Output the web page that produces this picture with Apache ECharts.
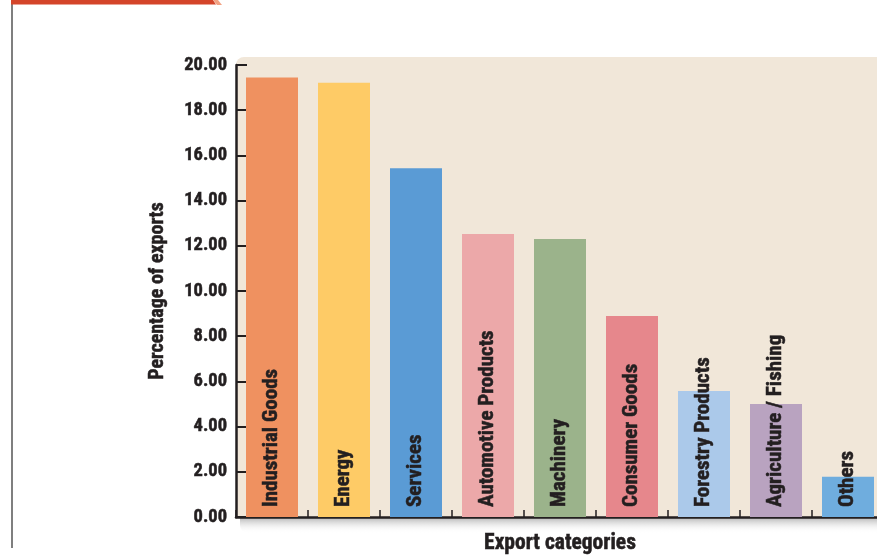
<!DOCTYPE html>
<html>
<head>
<meta charset="utf-8">
<script src="https://cdn.jsdelivr.net/npm/echarts@6/dist/echarts.min.js"></script>
<style>
  html, body { margin: 0; padding: 0; background: #ffffff; }
  #chart { width: 877px; height: 555px; }
</style>
</head>
<body>
<div id="chart"></div>
<script>
// Export share by category (percent)
const categories = [
  'Industrial Goods', 'Energy', 'Services', 'Automotive Products', 'Machinery',
  'Consumer Goods', 'Forestry Products', 'Agriculture / Fishing', 'Others'
];
const shares = [19.45, 19.22, 15.43, 12.52, 12.3, 8.89, 5.58, 5.0, 1.78];
const barColors = [
  '#EF9160', '#FECB66', '#5A9BD5', '#ECA8A9', '#9BB38B',
  '#E6878C', '#ABC9EA', '#B9A3C0', '#6FADDE'
];
const yTicks = { min: 0, max: 20, step: 2 };

const FONT = '"Roboto Condensed", "Liberation Sans Narrow", "Arial Narrow", sans-serif';
const INK = '#231F20';

// plot area
const L = 236, T = 65, R = -7, B = 38;
const W = 877, H = 555;

const chart = echarts.init(document.getElementById('chart'), null, { renderer: 'canvas' });

chart.setOption({
  animation: false,
  backgroundColor: '#ffffff',
  grid: { left: L, top: T, right: R, bottom: B, containLabel: false, outerBoundsMode: 'none' },
  xAxis: {
    type: 'category',
    data: categories,
    name: 'Export categories',
    nameLocation: 'middle',
    nameGap: 16,
    nameTextStyle: {
      fontFamily: FONT, fontWeight: 'bold', fontSize: 21.5, color: INK,
      verticalAlign: 'top', textBorderColor: INK, textBorderWidth: 0.5
    },
    axisLine: { lineStyle: { color: INK, width: 2.5 } },
    axisTick: { show: true, inside: true, interval: 0, length: 7, lineStyle: { color: INK, width: 1.5 } },
    axisLabel: { show: false },
    splitLine: { show: false }
  },
  yAxis: {
    type: 'value',
    min: yTicks.min,
    max: yTicks.max,
    interval: yTicks.step,
    name: 'Percentage of exports',
    nameLocation: 'middle',
    nameGap: 68,
    nameRotate: 90,
    nameTextStyle: {
      fontFamily: FONT, fontWeight: 'bold', fontSize: 20, color: INK,
      textBorderColor: INK, textBorderWidth: 0.5
    },
    axisLine: { show: true, lineStyle: { color: INK, width: 2.5 } },
    axisTick: { show: true, inside: true, length: 11, lineStyle: { color: INK, width: 2 } },
    axisLabel: {
      fontFamily: FONT, fontWeight: 'bold', fontSize: 18.5, color: INK, margin: 9,
      textBorderColor: INK, textBorderWidth: 0.5,
      formatter: v => v.toFixed(2)
    },
    splitLine: { show: false }
  },
  series: [{
    type: 'bar',
    data: shares.map((v, i) => ({ value: v, itemStyle: { color: barColors[i] } })),
    barWidth: 52,
    z: 3,
    label: {
      show: true,
      position: 'insideBottom',
      rotate: 90,
      align: 'left',
      verticalAlign: 'middle',
      distance: 10,
      formatter: '{b}',
      fontFamily: FONT,
      fontWeight: 'bold',
      fontSize: 21,
      color: INK,
      textBorderColor: INK,
      textBorderWidth: 0.5
    }
  }],
  graphic: [
    // beige plot panel
    {
      type: 'rect', z: -10, silent: true,
      shape: { x: L, y: 57, width: W - L, height: H - B - 57, r: [8, 0, 0, 0] },
      style: { fill: '#F1E7D9' }
    },
    // soft shadow under the baseline
    {
      type: 'rect', z: -10, silent: true,
      shape: { x: 240, y: H - B, width: W - 240, height: 16, r: [0, 0, 0, 8] },
      style: {
        fill: new echarts.graphic.LinearGradient(0, 0, 0, 1, [
          { offset: 0, color: 'rgba(150,150,150,0.75)' },
          { offset: 1, color: 'rgba(255,255,255,0)' }
        ])
      }
    },
    // page frame: thin left rule
    {
      type: 'line', silent: true,
      shape: { x1: 12, y1: 0, x2: 12, y2: 548 },
      style: { stroke: '#555555', lineWidth: 1.5 }
    },
    // red header strip
    {
      type: 'polygon', silent: true,
      shape: { points: [[11, 0], [213, 0], [216, 4.5], [11, 4.5]] },
      style: { fill: '#D4452A' }
    },
    {
      type: 'polygon', silent: true,
      shape: { points: [[213, 0], [218, 0], [222, 5], [217, 5]] },
      style: { fill: '#F2A283' }
    }
  ]
});
</script>
</body>
</html>
